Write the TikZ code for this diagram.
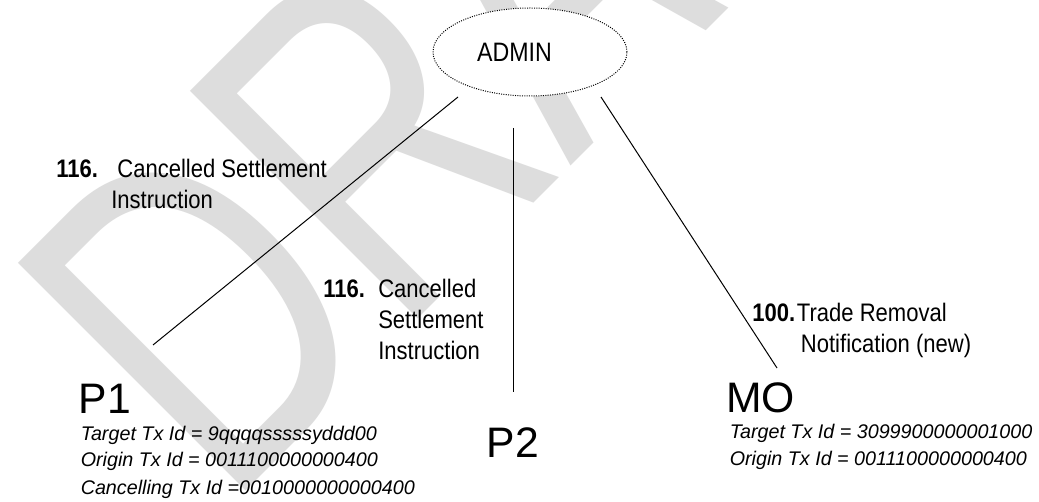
\documentclass[tikz,border=0pt]{standalone}
\usepackage{fontspec}
\setmainfont{Liberation Sans}
\newfontfamily\narrowsans[FakeStretch=0.87]{Liberation Sans}
\usetikzlibrary{shapes.geometric}
\definecolor{wmgray}{RGB}{221,221,221}
\begin{document}
\begin{tikzpicture}[x=0.75pt,y=-0.75pt,
  lbl/.style={anchor=base west,inner sep=0pt,font=\narrowsans\fontsize{19pt}{22.9pt}\selectfont},
  ital/.style={anchor=base west,inner sep=0pt,font=\fontsize{14.8pt}{20.25pt}\selectfont\itshape},
  big/.style={anchor=base west,inner sep=0pt,font=\fontsize{32pt}{38pt}\selectfont},
  conn/.style={line width=0.75pt,black},
  wm/.style={anchor=base west,inner sep=0pt,text=wmgray,font=\fontsize{351pt}{380pt}\selectfont},
  adminshape/.style={ellipse,draw,fill=white,densely dotted,line width=0.75pt,inner sep=0pt,minimum width=145.5pt,minimum height=66pt}]
\useasboundingbox (0,0) rectangle (1039,502);
\fill[white] (0,0) rectangle (1039,502);
% watermark
\begin{scope}
\clip (0,0) rectangle (1039,502);
\begin{scope}[cm={0.509,0.509,-0.707,0.707,(226.5,510.2)}]
\node[wm,transform shape] (draft) at (0,0) {DRAFT};
\end{scope}
\end{scope}
% admin
\node[adminshape] (admin) at (530,52) {};
\node[anchor=base,inner sep=0pt,font=\narrowsans\fontsize{20pt}{24pt}\selectfont] (admintext) at (514.5,62) {ADMIN};
% connector ends
\coordinate (a1) at (458,97);
\coordinate (p1top) at (153,345);
\coordinate (a2) at (513,128);
\coordinate (p2top) at (513,392);
\coordinate (a3) at (601,97);
\coordinate (motop) at (777,368);
\draw[conn] (a1) -- (p1top);
\draw[conn] (a2) -- (p2top);
\draw[conn] (a3) -- (motop);
% labels
\node[lbl] (lab1) at (56,178) {\begin{tabular}[t]{@{}p{41.25pt}@{}l@{}}\textbf{116.} & \ Cancelled Settlement\\ & Instruction\end{tabular}};
\node[lbl] (lab2) at (323,298) {\begin{tabular}[t]{@{}p{41.25pt}@{}l@{}}\textbf{116.} & Cancelled\\ & Settlement\\ & Instruction\end{tabular}};
\node[lbl] (lab3) at (752,322) {\begin{tabular}[t]{@{}p{33.5pt}@{}l@{}}\textbf{100.} & Trade Removal\\ & \hspace*{3pt}Notification (new)\end{tabular}};
% parties
\node[big] (p1) at (78.6,413) {P1};
\node[big] (p2) at (486.6,457) {P2};
\node[big] (mo) at (725.8,412) {MO};
\node[ital] (p1info) at (80.5,440) {\begin{tabular}[t]{@{}l@{}}Target Tx Id = 9qqqqsssssyddd00\\Origin Tx Id = 0011100000000400\\Cancelling Tx Id =0010000000000400\end{tabular}};
\node[ital] (moinfo) at (729.5,438) {\begin{tabular}[t]{@{}l@{}}Target Tx Id = 3099900000001000\\Origin Tx Id = 0011100000000400\end{tabular}};
\end{tikzpicture}
\end{document}
